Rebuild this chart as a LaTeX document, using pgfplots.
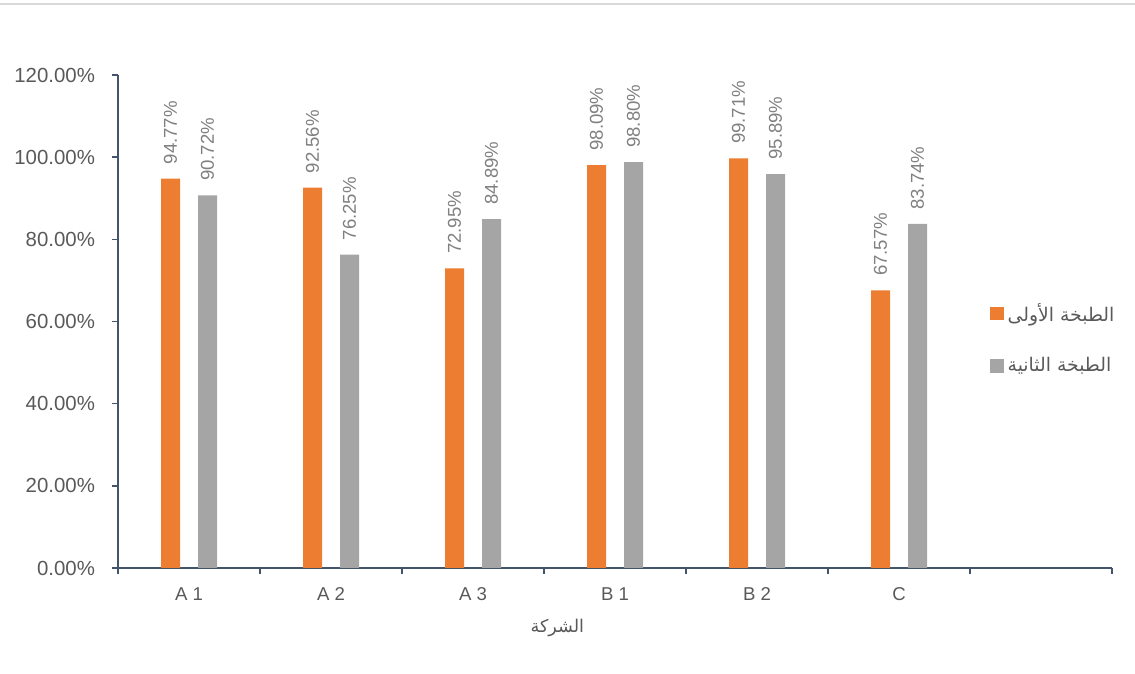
\documentclass[border=0pt]{standalone}
\usepackage{fontspec}
\usepackage{pgfplots}
\pgfplotsset{compat=1.18}
\setmainfont{Liberation Sans}
\newfontfamily\arabicfont[Script=Arabic]{DejaVu Sans}
\TeXXeTstate=1

\definecolor{firstbatch}{RGB}{237,125,49}
\definecolor{secondbatch}{RGB}{165,165,165}
\definecolor{axiscol}{RGB}{68,84,106}
\definecolor{ticktext}{RGB}{89,89,89}
\definecolor{labeltext}{RGB}{128,128,128}
\definecolor{frameline}{RGB}{217,217,217}

\begin{document}
\begin{tikzpicture}
  \path[use as bounding box] (0,0) rectangle (567.5pt,337pt);
  \draw[frameline, line width=0.6pt] (0,335pt) -- (567.5pt,335pt);
  \begin{axis}[
    at={(59pt,53pt)}, anchor=south west,
    width=497pt, height=246.5pt, scale only axis,
    xmin=-0.5, xmax=6.5, ymin=0, ymax=120,
    axis x line*=bottom, axis y line*=left,
    axis line style={draw=axiscol, line width=0.75pt},
    ybar,
    tick align=outside,
    xtick={0,...,5},
    xticklabels={A 1, A 2, A 3, B 1, B 2, C},
    major x tick style={draw=none},
    minor xtick={-0.5,0.5,...,6.5},
    minor x tick style={draw=axiscol, line width=0.75pt},
    minor tick length=3pt,
    ytick={0,20,...,120},
    major y tick style={draw=axiscol, line width=0.75pt},
    major tick length=3pt,
    yticklabel={\pgfmathprintnumber[fixed,fixed zerofill,precision=2]{\tick}\%},
    /pgf/number format/assume math mode=true,
    ticklabel style={text=ticktext},
    yticklabel style={font=\fontsize{10.2pt}{12pt}\selectfont, xshift=-5pt},
    xticklabel style={font=\fontsize{9.3pt}{11pt}\selectfont, yshift=-3pt,
      text height=6.8pt, text depth=0pt},
    xlabel={\arabicfont\beginR الشركة\endR},
    xlabel style={at={(rel axis cs:0.442,0)}, anchor=center, yshift=-30pt,
      text=ticktext, font=\fontsize{8.8pt}{10pt}\selectfont},
    bar width=9.5pt,
    nodes near coords={\pgfmathprintnumber[fixed,fixed zerofill,precision=2]{\pgfplotspointmeta}\%},
    every node near coord/.append style={rotate=90, anchor=west, inner sep=0pt,
      inner xsep=7pt, text=labeltext, font=\fontsize{9.3pt}{11pt}\selectfont,
      /pgf/number format/assume math mode=true},
    legend style={at={(rel axis cs:0.877,0.465)}, anchor=west, draw=none, fill=none,
      font=\fontsize{9.4pt}{11pt}\selectfont, text=ticktext, row sep=12.5pt,
      inner sep=0pt, legend cell align=left,
      /tikz/every even column/.style={column sep=2pt}},
  ]
    \addplot[fill=firstbatch, draw=none, bar shift=-9.25pt,
      legend image code/.code={\fill[firstbatch] (0pt,-3.4pt) rectangle (6.8pt,3.4pt);}]
      coordinates {(0,94.77) (1,92.56) (2,72.95) (3,98.09) (4,99.71) (5,67.57)};
    \addlegendentry{\arabicfont\beginR الطبخة الأولى\endR}
    \addplot[fill=secondbatch, draw=none, bar shift=9.25pt,
      legend image code/.code={\fill[secondbatch] (0pt,-3.4pt) rectangle (6.8pt,3.4pt);}]
      coordinates {(0,90.72) (1,76.25) (2,84.89) (3,98.80) (4,95.89) (5,83.74)};
    \addlegendentry{\arabicfont\beginR الطبخة الثانية\endR}
  \end{axis}
\end{tikzpicture}
\end{document}
